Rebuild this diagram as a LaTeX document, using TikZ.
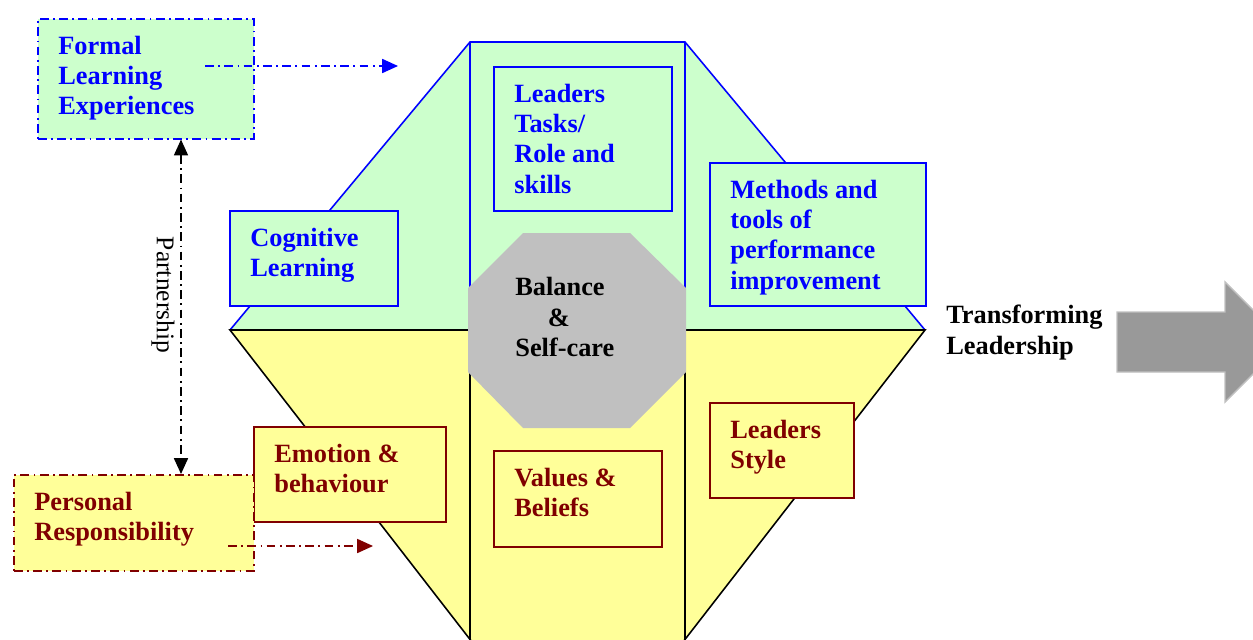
\documentclass[tikz,border=0pt]{standalone}
\usepackage{fontspec}
\setmainfont{Liberation Serif}
\usetikzlibrary{arrows.meta}
\definecolor{leafgreen}{HTML}{CCFFCC}
\definecolor{paleyellow}{HTML}{FFFF99}
\definecolor{darkred}{HTML}{800000}
\definecolor{octgray}{HTML}{C0C0C0}
\definecolor{arrowgray}{HTML}{999999}
\tikzset{
  >={Triangle[length=9pt,width=8pt]},
  dashdot/.style={dash pattern=on 5pt off 2.5pt on 1pt off 2.5pt},
  bluebox/.style={draw=blue, fill=leafgreen, line width=0.9pt, inner sep=0pt, anchor=north west},
  redbox/.style={draw=darkred, fill=paleyellow, line width=0.9pt, inner sep=0pt, anchor=north west},
  boxtext/.style={anchor=north west, inner sep=0pt, align=left, font=\fontsize{15}{17.3}\selectfont\bfseries},
  bluetext/.style={boxtext, text=blue},
  redtext/.style={boxtext, text=darkred},
}
\begin{document}
\begin{tikzpicture}[x=0.02cm, y=-0.02cm]
\useasboundingbox (0,0) rectangle (1253,639);
% diamond halves
\fill[leafgreen] (230,330) -- (470,42) -- (685,42) -- (925,330) -- cycle;
\draw[blue, line width=0.9pt] (230,330) -- (470,42) -- (685,42) -- (925,330);
\draw[blue, line width=0.9pt] (470,42) -- (470,330) (685,42) -- (685,330);
\filldraw[fill=paleyellow, line width=0.9pt] (230,330) -- (517,700) -- (638,700) -- (925,330) -- cycle;
\draw[line width=0.9pt] (470,330) -- (470,700) (685,330) -- (685,700);
% octagon
\fill[octgray] (523,233) -- (630,233) -- (686,288) -- (686,372) -- (630,428) -- (523,428) -- (468,372) -- (468,288) -- cycle;
\node[boxtext, text=black] (bal) at (515,277) {Balance\\\hspace*{18.5pt}\&\\Self-care};
% boxes
\node[bluebox, dashdot, minimum width=4.32cm, minimum height=2.40cm] (fle) at (37,18) {};
\node[bluetext] at ([shift={(21,17.5)}]fle.north west) {Formal\\Learning\\Experiences};
\node[bluebox, minimum width=3.56cm, minimum height=2.88cm] (tasks) at (493,66) {};
\node[bluetext] at ([shift={(21,17.5)}]tasks.north west) {Leaders\\Tasks/\\Role and\\skills};
\node[bluebox, minimum width=3.36cm, minimum height=1.90cm] (cog) at (229,210) {};
\node[bluetext] at ([shift={(21,17.5)}]cog.north west) {Cognitive\\Learning};
\node[bluebox, minimum width=4.32cm, minimum height=2.86cm] (meth) at (709,162) {};
\node[bluetext] at ([shift={(21,17.5)}]meth.north west) {Methods and\\tools of\\performance\\improvement};
\node[redbox, minimum width=3.84cm, minimum height=1.90cm] (emo) at (253,426) {};
\node[redtext] at ([shift={(21,17.5)}]emo.north west) {Emotion \&\\behaviour};
\node[redbox, minimum width=3.36cm, minimum height=1.92cm] (val) at (493,450) {};
\node[redtext] at ([shift={(21,17.5)}]val.north west) {Values \&\\Beliefs};
\node[redbox, minimum width=2.88cm, minimum height=1.90cm] (sty) at (709,402) {};
\node[redtext] at ([shift={(21,17.5)}]sty.north west) {Leaders\\Style};
\node[redbox, dashdot, minimum width=4.80cm, minimum height=1.92cm] (pr) at (13,474) {};
\node[redtext] at ([shift={(21,17.5)}]pr.north west) {Personal\\Responsibility};
% arrows
\coordinate (flestart) at (205,66);
\coordinate (fleend) at (398,66);
\draw[blue, dashdot, line width=0.8pt, ->] (flestart) -- (fleend);
\coordinate (prstart) at (228,546);
\coordinate (prend) at (373,546);
\draw[darkred, dashdot, line width=0.8pt, ->] (prstart) -- (prend);
\coordinate (pline) at (181,0);
\draw[dashdot, line width=0.8pt, <->] (fle.south -| pline) -- (pr.north -| pline);
\node[rotate=-90, inner sep=0pt, font=\fontsize{14.5}{17}\selectfont] (partner) at (163,295) {Partnership};
% outcome
\node[boxtext, text=black] (tl) at (946,305) {Transforming\\Leadership};
\filldraw[fill=arrowgray, draw=octgray, line width=0.8pt] (1117,312) -- (1225,312) -- (1225,282) -- (1285,342) -- (1225,402) -- (1225,372) -- (1117,372) -- cycle;
\end{tikzpicture}
\end{document}
